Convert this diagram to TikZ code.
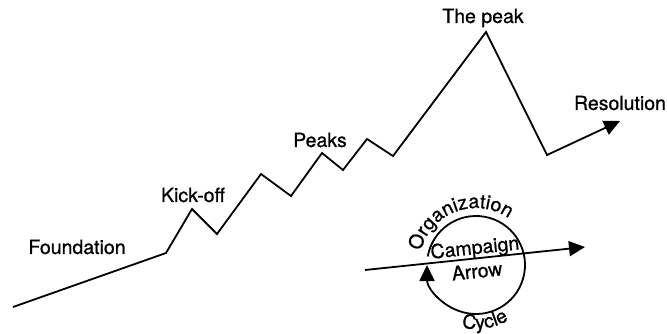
\documentclass[tikz,border=0pt]{standalone}
\usepackage{fontspec}
\setmainfont{TeX Gyre Heros}
\newfontfamily\heavyfamily{TeX Gyre Heros}[FakeBold=0.8]
\usepackage{tikz}
\usetikzlibrary{arrows.meta}
\usetikzlibrary{calc}
\usetikzlibrary{decorations.text}

\newcommand{\tagfont}{\heavyfamily\fontsize{19.5}{22}\selectfont}

\begin{document}
\begin{tikzpicture}[
        x=1pt, y=1pt,
        curve/.style={line width=1.8pt, line join=miter},
        tip/.style={-{Triangle[length=16pt, width=15pt]}},
        tag/.style={font=\tagfont, inner sep=0pt}
    ]
        \useasboundingbox (0,0) rectangle (667,333);

        % Trayectoria de la campana
        \coordinate (p0)  at (13,26);
        \coordinate (p1)  at (166,80);
        \coordinate (p2)  at (192,124);
        \coordinate (p3)  at (217,99);
        \coordinate (p4)  at (261,159);
        \coordinate (p5)  at (291,137);
        \coordinate (p6)  at (322,180);
        \coordinate (p7)  at (343,163);
        \coordinate (p8)  at (367,194);
        \coordinate (p9)  at (393,177);
        \coordinate (p10) at (486,301);
        \coordinate (p11) at (547,178);
        \coordinate (p12) at (620,212);
        \draw[curve, tip] (p0) -- (p1) -- (p2) -- (p3) -- (p4) -- (p5) -- (p6)
            -- (p7) -- (p8) -- (p9) -- (p10) -- (p11) -- (p12);

        \node[tag] (found) at (77,86)   {Foundation};
        \node[tag] (kick)  at (193,138) {Kick-off};
        \node[tag] (peaks) at (320,193) {Peaks};
        \node[tag] (top)   at (483,315) {The peak};
        \node[tag] (resol) at (620,230) {Resolution};

        % Ciclo de la organizacion
        \coordinate (c)  at (476,68);
        \coordinate (a0) at (365,63);
        \coordinate (a1) at (585,86);
        \draw[curve, tip] (c) ++(170:49) arc (170:-180:49);
        \draw[curve, tip] (a0) -- (a1);
        \node[tag, rotate=6] (camp) at (475,84) {Campaign};
        \node[tag, rotate=6] (arrw) at (477,62) {Arrow};
        \path[decorate, decoration={text along path, text align=center,
            text={|\tagfont|Organization}}] (c) ++(168:57) arc (168:53:57);
        \path[decorate, decoration={text along path, text align=center,
            text={|\tagfont|Cycle}}] (c) ++(-104:64) arc (-104:-58:64);
    \end{tikzpicture}
\end{document}
